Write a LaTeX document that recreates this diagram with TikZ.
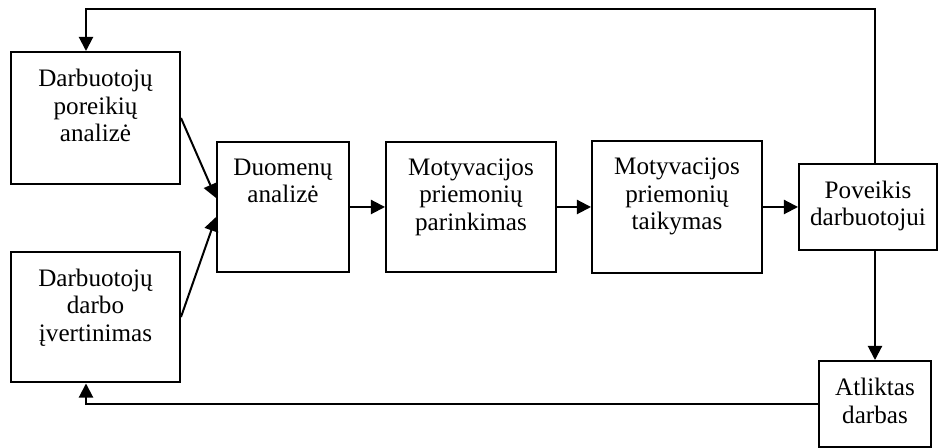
\documentclass[tikz,border=0pt]{standalone}
\usepackage{fontspec}
\setmainfont{Liberation Serif}
\usepackage{tikz}
\usetikzlibrary{arrows.meta}

\begin{document}
\begin{tikzpicture}[x=0.02cm, y=-0.02cm,
	box/.style={draw, black, line width=0.04cm, inner sep=0pt},
	txt/.style={anchor=north, align=center, inner sep=0pt, font=\fontsize{14.3}{15.6}\selectfont},
	arr/.style={black, line width=0.04cm, -{Triangle[width=8pt, length=8pt]}}]
	
	\useasboundingbox (0,0) rectangle (940,448);
	\node[box, minimum width=3.38cm, minimum height=2.64cm] (pa) at (95.5,118) {};
	\node[box, minimum width=3.38cm, minimum height=2.62cm] (dv) at (95.5,317) {};
	\node[box, minimum width=2.64cm, minimum height=2.62cm] (da) at (283,207) {};
	\node[box, minimum width=3.4cm, minimum height=2.62cm] (mp) at (471,207) {};
	\node[box, minimum width=3.4cm, minimum height=2.64cm] (mt) at (677,207) {};
	\node[box, minimum width=2.76cm, minimum height=1.74cm] (pd) at (868,207) {};
	\node[box, minimum width=2.26cm, minimum height=1.72cm] (ad) at (875,404) {};
	\node[txt] (pa-t) at ([yshift=-0.36cm]pa.north) {Darbuotojų\\poreikių\\analizė};
	\node[txt] (dv-t) at ([yshift=-0.36cm]dv.north) {Darbuotojų\\darbo\\įvertinimas};
	\node[txt] (da-t) at ([yshift=-0.36cm]da.north) {Duomenų\\analizė};
	\node[txt] (mp-t) at ([yshift=-0.36cm]mp.north) {Motyvacijos\\priemonių\\parinkimas};
	\node[txt] (mt-t) at ([yshift=-0.36cm]mt.north) {Motyvacijos\\priemonių\\taikymas};
	\node[txt] (pd-t) at ([yshift=-0.36cm]pd.north) {Poveikis\\darbuotojui};
	\node[txt] (ad-t) at ([yshift=-0.36cm]ad.north) {Atliktas\\darbas};
	\coordinate (tl) at (86,9);
	\coordinate (tr) at (875,9);
	\draw[arr] (pa.east) -- ([yshift=0.18cm]da.west);
	\draw[arr] (dv.east) -- ([yshift=-0.2cm]da.west);
	\draw[arr] (da) -- (mp);
	\draw[arr] (mp) -- (mt);
	\draw[arr] (mt) -- (pd);
	\draw[arr] (pd.south -| ad.north) -- (ad.north);
	\draw[arr] (pd.north -| tr) -- (tr) -- (tl) -- (pa.north -| tl);
	\draw[arr] (ad.west) -| (dv.south -| tl);
\end{tikzpicture}
\end{document}
